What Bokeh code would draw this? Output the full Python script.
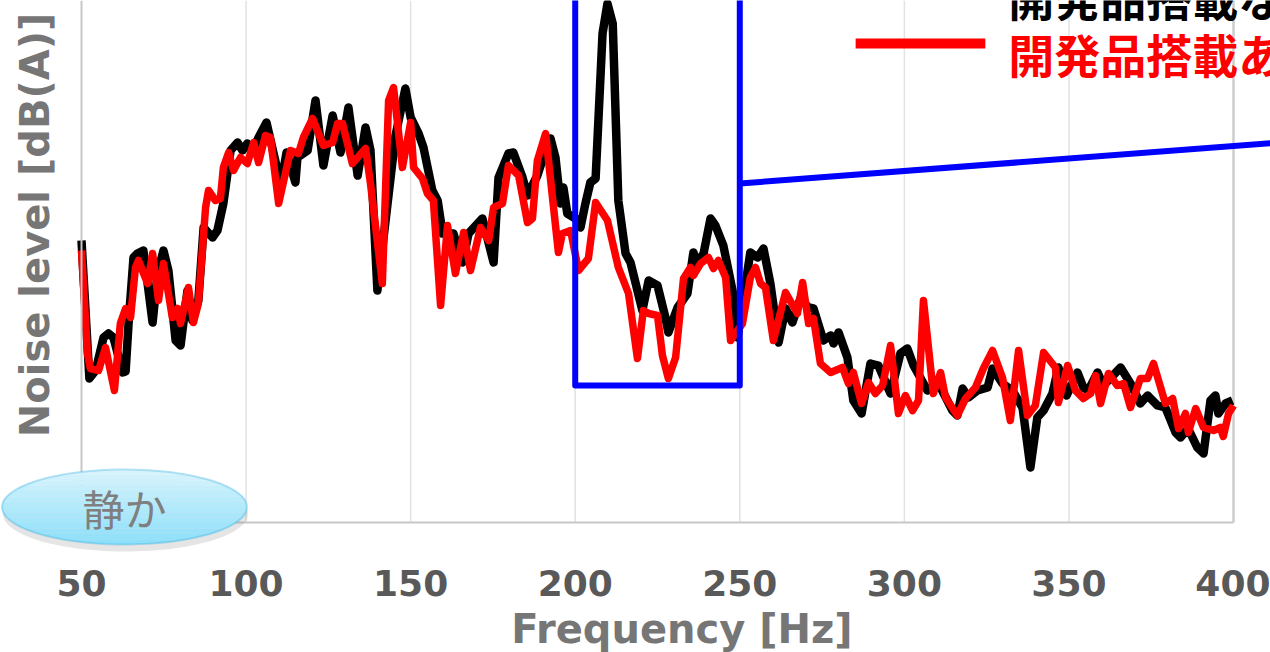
import numpy as np
from bokeh.plotting import figure
from bokeh.models import Range1d, FixedTicker, Label, Arrow, PolyAnnotation
from bokeh.embed import file_html
from bokeh.resources import INLINE

# ---- data (frequency in Hz, level in dB(A), arbitrary offset) ----
black_freq = [50.0, 52.4, 54.3, 56.7, 58.2, 59.7, 62.5, 63.4, 64.3, 65.8, 67.0, 68.8, 71.6, 73.1,
              74.9, 76.4, 78.6, 80.1, 82.2, 83.7, 85.5, 87.1, 89.8, 91.3, 93.1, 95.3, 97.4, 98.9,
              100.4, 102.0, 103.8, 106.2, 109.2, 110.8, 112.3, 115.0, 115.6, 118.7, 121.1, 123.5,
              126.3, 128.7, 131.1, 133.9, 136.3, 137.8, 139.9, 145.4, 148.4, 150.0, 152.4, 153.9,
              156.6, 158.2, 159.7, 163.0, 165.8, 167.6, 171.8, 175.2, 176.7, 179.7, 181.2, 184.0,
              185.5, 188.5, 191.0, 192.5, 194.0, 195.5, 196.4, 197.6, 200.1, 201.6, 203.1, 204.6,
              206.2, 208.3, 209.8, 211.4, 213.1, 215.3, 216.8, 220.4, 222.3, 225.0, 227.4, 228.3,
              231.1, 234.1, 235.9, 237.1, 239.0, 241.1, 242.6, 245.0, 247.8, 249.3, 253.2, 255.4,
              257.2, 259.3, 261.8, 263.9, 266.0, 268.4, 270.9, 272.4, 275.4, 277.6, 278.5, 280.0,
              282.7, 284.5, 287.0, 289.7, 292.1, 295.8, 298.8, 300.9, 302.8, 307.0, 310.4, 314.6,
              316.1, 317.7, 319.5, 322.2, 325.3, 326.8, 329.8, 332.8, 335.9, 338.3, 340.4, 342.3,
              345.0, 346.8, 349.3, 352.6, 354.4, 355.9, 358.7, 360.5, 365.7, 368.7, 371.7, 373.9,
              376.9, 379.3, 382.4, 383.9, 386.2, 389.0, 390.9, 393.0, 394.5, 395.4, 397.6, 399.7]
black_level = [48.2, 34.4, 35.2, 38.5, 38.9, 38.5, 35.0, 35.1, 39.9, 46.5, 46.9, 47.2, 40.0, 44.9,
               47.2, 45.2, 38.2, 37.7, 43.2, 40.2, 42.2, 49.5, 48.5, 49.2, 51.9, 57.2, 58.0, 57.2,
               57.9, 57.2, 58.5, 60.0, 55.7, 54.2, 57.0, 54.0, 56.5, 57.2, 62.2, 55.7,
               60.7, 57.0, 61.5, 54.7, 59.5, 57.2, 43.2, 58.7, 63.4, 60.5, 58.9, 57.5,
               53.2, 52.2, 48.9, 48.9, 46.0, 48.9, 50.4, 46.0, 54.5, 56.9, 57.0, 54.5,
               52.7, 54.7, 57.2, 58.4, 56.5, 51.9, 53.5, 50.9, 50.4, 49.5, 51.9, 54.0,
               54.4, 68.9, 71.9, 69.9, 52.2, 46.9, 46.0, 41.2, 44.2, 43.7, 40.5, 39.0,
               41.5, 42.9, 47.0, 45.9, 46.9, 50.4, 49.7, 47.7, 43.2, 38.5, 47.0, 46.5,
               47.4, 43.9, 38.0, 41.4, 40.0, 42.4, 41.5, 41.4, 38.2, 38.7, 37.9, 39.0,
               36.5, 32.2, 30.9, 35.9, 35.7, 32.9, 36.9, 37.4, 35.7, 33.2, 33.9, 31.2,
               30.7, 33.4, 32.5, 33.2, 33.5, 35.4, 33.9, 33.2, 31.5, 25.5, 30.5, 31.2,
               32.9, 35.5, 32.7, 35.0, 33.5, 33.2, 35.0, 33.7, 35.5, 33.9, 31.9, 32.7,
               31.7, 31.5, 29.0, 28.5, 29.4, 27.5, 26.9, 32.2, 32.7, 30.9, 31.9, 32.2]

red_freq = [50.0, 51.8, 52.7, 55.2, 57.3, 60.0, 61.8, 63.4, 64.9, 66.4, 67.3, 70.1, 71.6, 73.4,
            74.9, 77.6, 79.2, 80.1, 82.5, 84.0, 85.5, 87.7, 88.6, 90.7, 92.2, 93.1, 94.7, 96.2,
            98.3, 100.4, 102.3, 103.8, 105.9, 107.4, 109.9, 113.5, 115.9, 117.4, 120.2, 123.5,
            126.3, 127.8, 129.3, 132.3, 136.3, 137.8, 141.4, 143.3, 144.8, 147.5, 150.0, 150.9,
            153.6, 155.1, 156.9, 159.1, 161.2, 163.6, 166.1, 168.2, 171.2, 173.7, 175.2, 177.9,
            179.7, 182.8, 185.5, 187.0, 188.5, 191.0, 194.9, 196.1, 198.6, 201.0, 204.0, 206.2,
            209.8, 213.1, 216.2, 218.9, 220.7, 222.3, 225.0, 226.5, 228.3, 230.5, 232.9, 235.0,
            235.9, 238.1, 240.5, 242.0, 243.5, 245.7, 247.2, 250.8, 253.2, 254.8, 256.3, 257.8,
            260.2, 263.9, 267.5, 269.1, 270.9, 272.4, 274.5, 277.6, 281.2, 283.0, 284.5, 287.0,
            289.1, 291.2, 293.4, 295.8, 298.2, 300.3, 302.5, 304.3, 305.8, 308.8, 311.0, 312.5,
            316.1, 318.6, 321.6, 324.0, 326.8, 329.8, 332.2, 334.7, 337.4, 339.8, 342.3, 345.9,
            346.8, 349.6, 352.0, 354.4, 356.6, 358.1, 359.6, 362.0, 364.7, 366.6, 368.7, 371.7,
            373.9, 375.7, 379.3, 381.5, 383.3, 385.4, 386.3, 388.5, 390.9, 393.9, 396.0, 396.9,
            398.5, 400.0]
red_level = [47.2, 36.9, 35.4, 35.2, 37.5, 33.2, 39.9, 41.4, 40.5, 45.5, 46.2, 43.9, 46.9, 42.2,
             45.9, 40.5, 41.4, 39.9, 43.5, 40.0, 41.9, 51.5, 53.2, 52.2, 52.4, 55.5, 57.0, 55.2,
             56.5, 55.9, 58.0, 56.0, 58.7, 58.5, 51.9, 57.2, 56.9, 58.5, 60.4, 57.7,
             58.0, 59.9, 59.9, 55.9, 57.4, 53.9, 43.9, 62.2, 63.5, 55.5, 60.0, 55.5,
             54.4, 52.9, 52.2, 41.7, 49.7, 44.9, 49.0, 45.2, 49.5, 48.2, 51.5, 51.9,
             55.7, 54.7, 50.0, 50.4, 56.2, 58.9, 47.0, 48.9, 49.2, 45.2, 46.4, 52.0,
             50.2, 45.5, 42.9, 36.4, 41.2, 40.9, 40.7, 36.7, 34.4, 36.5, 44.4, 45.5,
             44.7, 45.9, 46.5, 45.4, 46.2, 44.5, 38.2, 39.9, 44.5, 45.5, 43.9, 43.5,
             38.2, 43.0, 40.9, 44.0, 39.9, 40.4, 35.9, 35.0, 35.5, 33.9, 35.0, 31.9,
             34.0, 32.9, 33.7, 37.7, 30.9, 32.7, 31.2, 32.2, 42.2, 32.9, 35.0, 32.5,
             30.7, 32.4, 33.5, 35.4, 37.2, 34.5, 30.2, 37.2, 30.7, 31.7, 37.0, 35.5,
             32.0, 35.7, 33.2, 32.4, 32.9, 34.7, 31.9, 34.9, 33.7, 33.9, 31.5, 34.4,
             34.4, 35.9, 31.9, 32.4, 29.4, 30.9, 29.0, 31.4, 29.5, 29.2, 29.5, 28.6,
             30.9, 31.7]

x_ticks = [50, 100, 150, 200, 250, 300, 350, 400]
series_names = ["開発品搭載なし", "開発品搭載あり"]
quiet_text = "静か"
x_title = "Frequency [Hz]"
y_title = "Noise level [dB(A)]"

# plot-area limits and highlighted band (layout constants)
X_MIN, X_MAX = 50, 400
Y_BOTTOM, Y_TOP = 20.0, 72.2
band_lo, band_hi, band_bottom = 200, 250, 33.7

LATIN = "DejaVu Sans"
CJK = "Noto Sans CJK JP"

# The frame covers the whole canvas; axes are pinned inside it so that the
# decorations around the plot area are not clipped.
p = figure(width=1270, height=652, output_backend="svg", toolbar_location=None,
           x_range=Range1d(25.391, 411.24), y_range=Range1d(7.0, 72.2),
           min_border=0, min_border_left=0, min_border_right=0,
           min_border_top=0, min_border_bottom=0,
           background_fill_color="white", border_fill_color="white")
p.outline_line_color = None
p.xgrid.visible = False
p.ygrid.visible = False

# x axis pinned at the bottom of the plot area
xa = p.xaxis[0]
xa.fixed_location = Y_BOTTOM
xa.bounds = (X_MIN, X_MAX)
xa.ticker = FixedTicker(ticks=x_ticks)
xa.major_label_text_font = LATIN
xa.major_label_text_font_style = "bold"
xa.major_label_text_font_size = "36px"
xa.major_label_text_color = "#595959"
xa.major_tick_line_color = None
xa.minor_tick_line_color = None
xa.major_tick_out = 0
xa.major_tick_in = 0
xa.major_label_standoff = 47
xa.axis_line_color = "#c8c8c8"
xa.axis_line_width = 2

# y axis pinned at the left of the plot area (no ticks, as in the reference)
ya = p.yaxis[0]
ya.fixed_location = X_MIN
ya.bounds = (Y_BOTTOM, Y_TOP)
ya.ticker = FixedTicker(ticks=[])
ya.major_tick_line_color = None
ya.minor_tick_line_color = None
ya.major_tick_out = 0
ya.major_tick_in = 0
ya.axis_line_color = "#c8c8c8"
ya.axis_line_width = 2

# vertical grid lines at the tick positions, limited to the plot area
grid_x = x_ticks[1:-1]
p.segment(x0=grid_x, y0=[Y_BOTTOM] * len(grid_x), x1=grid_x, y1=[Y_TOP] * len(grid_x),
          line_color="#e2e2e2", line_width=1.5)
p.segment(x0=[X_MAX], y0=[Y_BOTTOM], x1=[X_MAX], y1=[Y_TOP], line_color="#cdcdcd", line_width=2.5)

# series
p.line(black_freq, black_level, line_color="black", line_width=8.5, line_join="round")
p.line(red_freq, red_level, line_color="#ff0000", line_width=7.5, line_join="round")

# highlight box and connector
p.line([band_lo, band_lo, band_hi, band_hi], [80, band_bottom, band_bottom, 80],
       line_color="#0000ff", line_width=6, line_join="round")
p.add_layout(Arrow(end=None, x_start=band_hi, y_start=53.9, x_end=412.0, y_end=57.95,
                   line_color="#0000ff", line_width=6))

# legend (partially outside the view as in the reference)
p.add_layout(Arrow(end=None, x_start=285.2, y_start=67.9, x_end=324.6, y_end=67.9,
                   line_color="#ff0000", line_width=10))
p.add_layout(Label(x=331.6, y=72.65, text=series_names[0], text_font=CJK, text_font_style="bold",
                   text_font_size="46px", text_color="black", text_align="left", text_baseline="middle"))
p.add_layout(Label(x=331.6, y=66.95, text=series_names[1], text_font=CJK, text_font_style="bold",
                   text_font_size="46px", text_color="#ff0000", text_align="left", text_baseline="middle"))

# "quiet" ellipse badge with vertical gradient
cx, cy, ax_, ay_ = 63.06, 21.55, 37.2, 3.75
t = np.linspace(0, 2 * np.pi, 120)
p.add_layout(PolyAnnotation(xs=list(cx + 0.3 + ax_ * np.cos(t)), ys=list(cy - 0.7 + ay_ * np.sin(t)),
                            fill_color="#8a8a8a", fill_alpha=0.22, line_color=None))
top_rgb = np.array([0xDA, 0xF5, 0xFD])
bot_rgb = np.array([0x8C, 0xDF, 0xF9])
n_bands = 14
edges = np.linspace(-1.0, 1.0, n_bands + 1)
for k in range(n_bands):
    v = np.linspace(edges[k], edges[k + 1], 8)
    half = np.sqrt(np.clip(1 - v ** 2, 0, 1))
    bx = np.concatenate([-half, half[::-1]])
    by = np.concatenate([v, v[::-1]])
    frac = (0.5 * (edges[k] + edges[k + 1]) + 1) / 2  # 0 bottom .. 1 top
    rgb = (bot_rgb + (top_rgb - bot_rgb) * frac).astype(int)
    col = "#%02x%02x%02x" % tuple(rgb)
    p.add_layout(PolyAnnotation(xs=list(cx + ax_ * bx), ys=list(cy + ay_ * by),
                                fill_color=col, fill_alpha=1.0, line_color=col, line_width=0.8))
p.add_layout(PolyAnnotation(xs=list(cx + ax_ * np.cos(t)), ys=list(cy + ay_ * np.sin(t)),
                            fill_color=None, fill_alpha=0, line_color="#22a7de", line_width=2))
p.add_layout(Label(x=cx, y=cy, text=quiet_text, text_font=CJK, text_font_size="42px",
                   text_color="#7f7f7f", text_align="center", text_baseline="middle"))

# axis titles
p.add_layout(Label(x=36.0, y=49.75, text=y_title, angle=np.pi / 2, text_font=LATIN,
                   text_font_style="bold", text_font_size="40px", text_color="#767676",
                   text_align="center", text_baseline="middle"))
p.add_layout(Label(x=232.4, y=9.4, text=x_title, text_font=LATIN, text_font_style="bold",
                   text_font_size="40px", text_color="#767676", text_align="center",
                   text_baseline="middle"))

open("out.html", "w").write(file_html(p, INLINE))
